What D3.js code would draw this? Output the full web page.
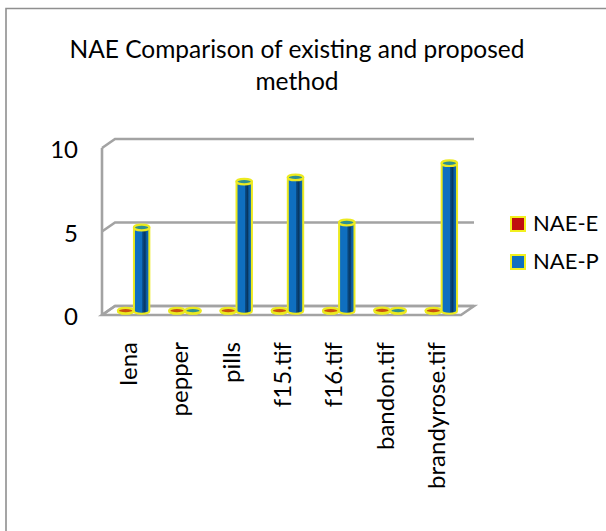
<!DOCTYPE html>
<html><head><meta charset="utf-8">
<script src="https://cdn.jsdelivr.net/npm/d3@7"></script>
<style>html,body{margin:0;padding:0;background:#fff}svg{display:block}text{font-family:Lato,"Open Sans",sans-serif;fill:#000}</style>
</head><body><div id="c"></div>
<script>
const categories=["lena","pepper","pills","f15.tif","f16.tif","bandon.tif","brandyrose.tif"];
const naeE=[0.02,0.02,0.02,0.02,0.02,0.04,0.02];
const naeP=[5.0,0.02,7.75,8.0,5.3,0.02,8.85];
const seriesNames=["NAE-E","NAE-P"];
const seriesFill=["#c00f0f","#0f6fc0"];
const yTicks=[0,5,10];
const titleLines=["NAE Comparison of existing and proposed","method"];

const W=606,H=531;
const svg=d3.select("#c").append("svg").attr("width",W).attr("height",H);
svg.append("path").attr("d",`M6,${H}L6,8.5L${W},8.5`).attr("fill","none").attr("stroke","#8f8f8f").attr("stroke-width",1.6);

titleLines.forEach((t,i)=>svg.append("text").attr("x",297).attr("y",58+i*32).attr("text-anchor","middle").attr("font-size",24.5).text(t));

const y=d3.scaleLinear().domain([0,10]).range([315,148]);
const x=d3.scaleBand().domain(categories).range([102,461]);
const dx=13,dy=-9;
const wall="#a3a3a3";
const g=svg.append("g");
const x0=x.range()[0],x1=x.range()[1];
g.append("path").attr("d",`M${x0},${y(0)}L${x0+dx},${y(0)+dy}L${x1+dx},${y(0)+dy}L${x1},${y(0)}Z`).attr("fill","#fff").attr("stroke",wall).attr("stroke-width",2.6);
yTicks.forEach(t=>{
  g.append("path").attr("d",`M${x0},${y(t)}L${x0+dx},${y(t)+dy}L${x1+dx},${y(t)+dy}`).attr("fill","none").attr("stroke",wall).attr("stroke-width",2.6);
});
g.append("line").attr("x1",x0).attr("x2",x0).attr("y1",y(0)).attr("y2",y(10)).attr("stroke",wall).attr("stroke-width",2.6);
yTicks.forEach(t=>svg.append("text").attr("x",78).attr("y",y(t)+10).attr("text-anchor","end").attr("font-size",24).text(t));

const defs=svg.append("defs");
const grad=defs.append("linearGradient").attr("id","cyl");
[[0,"#0f6fc0"],[0.52,"#0f6fc0"],[0.56,"#0a4d88"],[0.72,"#07355f"],[0.8,"#0b5a9e"],[1,"#0f6fc0"]].forEach(s=>grad.append("stop").attr("offset",s[0]).attr("stop-color",s[1]));

const centerOffset=[-8,8];
const rx=7.7,ry=2.8,baseShift=-4;
function cyl(cx,v,si){
  const top=y(v)+baseShift,bot=y(0)+baseShift;
  const gg=svg.append("g");
  const d=`M${cx-rx},${top}L${cx-rx},${bot}A${rx},${ry} 0 0 0 ${cx+rx},${bot}L${cx+rx},${top}Z`;
  gg.append("path").attr("d",d).attr("fill",si==1?"url(#cyl)":seriesFill[si]).attr("stroke","#ecea20").attr("stroke-width",2);
  gg.append("ellipse").attr("cx",cx).attr("cy",top).attr("rx",rx).attr("ry",ry).attr("fill",si==1?"#2f8f8f":"#c9500f").attr("stroke","#ecea20").attr("stroke-width",2.2);
}
categories.forEach((c,i)=>{
  const cc=x(c)+x.bandwidth()/2+6;
  cyl(cc+centerOffset[0],naeE[i],0);
  cyl(cc+centerOffset[1],naeP[i],1);
  svg.append("text").attr("transform",`translate(${cc+3.5},342) rotate(-90)`).attr("text-anchor","end").attr("font-size",24).text(c);
});

seriesNames.forEach((n,i)=>{
  const ly=224+i*38;
  svg.append("rect").attr("x",511).attr("y",ly-7).attr("width",14).attr("height",14).attr("fill",seriesFill[i]).attr("stroke","#f2f01e").attr("stroke-width",2);
  svg.append("text").attr("x",533).attr("y",ly+7).attr("font-size",22).text(n);
});
</script></body></html>
